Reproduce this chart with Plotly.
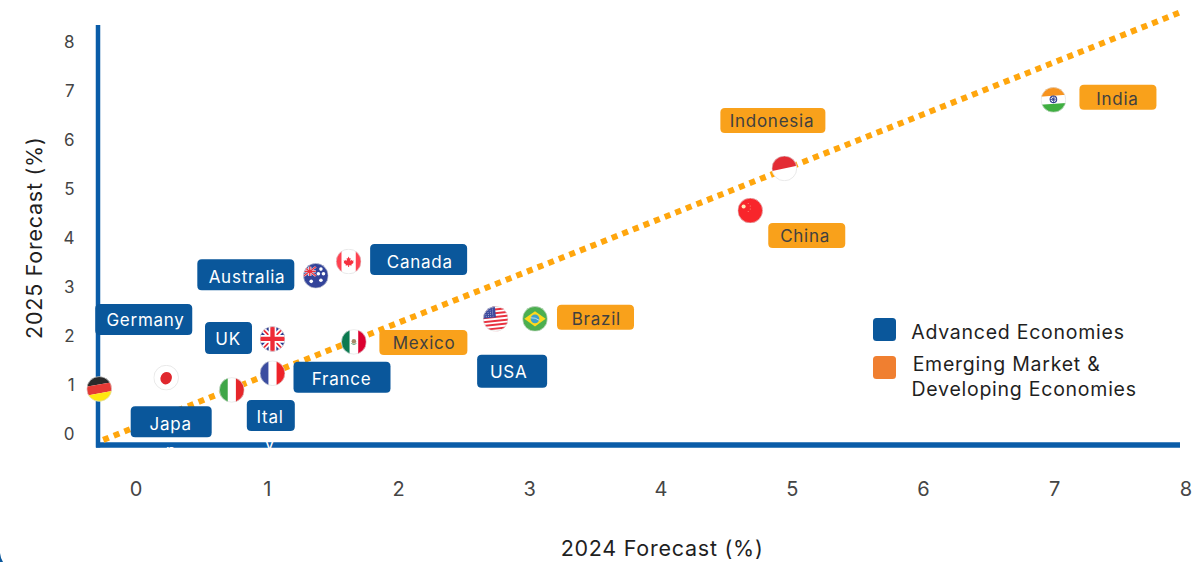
import base64
import plotly.graph_objects as go

# ---------- data ----------
countries = ["Germany", "Japan", "Italy", "France", "UK", "Mexico", "Australia",
             "Canada", "USA", "Brazil", "China", "Indonesia", "India"]
forecast_2024 = [-0.28, 0.23, 0.73, 1.04, 1.04, 1.66, 1.37, 1.62, 2.74, 3.04, 4.68, 4.94, 6.99]
forecast_2025 = [0.92, 1.15, 0.90, 1.24, 1.94, 1.88, 3.23, 3.52, 2.35, 2.35, 4.56, 5.42, 6.82]
groups = ["adv", "adv", "adv", "adv", "adv", "em", "adv", "adv", "adv", "em", "em", "em", "em"]
trend_x = [-0.25, 7.95]
trend_y = [-0.12, 8.60]
x_ticks = [0, 1, 2, 3, 4, 5, 6, 7, 8]
y_ticks = [0, 1, 2, 3, 4, 5, 6, 7, 8]

# ---------- style ----------
BLUE = "#0A579B"
AXIS = "#0A5CA8"
ORANGE = "#F9A11B"
LINE = "#FFA60D"
FONT = "Inter"
W, H = 1193, 562
L, R, T, B = 85, 0, 0, 97
X0, PX = 136.0, 131.25   # pixel of x=0, px per unit
Y0, PY = 434.0, 49.0
xr = [(L - X0) / PX, (W - R - X0) / PX]
yr = [(Y0 - (H - B)) / PY, (Y0 - T) / PY]


def px_x(px):
    return (px - L) / (W - L - R)


def px_y(py):
    return 1 - (py - T) / (H - T - B)


# label box in pixels relative to the flag centre: left, right, top, bottom; text centre dx, dy
boxes = {
    "Germany": (-4, 93, -85, -54, 46, -68.5),
    "Japan": (-35.5, 45.5, 28.5, 59.5, 4.5, 46),
    "Italy": (15, 63, 10, 41, 38, 27.5),
    "France": (21, 118, -11.5, 19.5, 69, 6),
    "UK": (-67.5, -20.5, -17, 15, -44.5, 0.5),
    "Mexico": (25.5, 113.5, -12, 13, 70.5, 1.5),
    "Australia": (-118.5, -21.5, -16.5, 14.5, -68.5, 1),
    "Canada": (21.5, 118.5, -17.5, 13.5, 71.5, 0.5),
    "USA": (-18.5, 51.5, 36, 69, 13.5, 53.5),
    "Brazil": (22, 99, -14, 11, 61, 0.5),
    "China": (18, 95, 12.5, 37.5, 55, 25.5),
    "Indonesia": (-64, 41, -60.5, -35.5, -12, -47.5),
    "India": (26, 103, -15, 10, 64, -0.5),
}


def circ(body, stroke="#dcdcdc"):
    svg = ('<svg xmlns="http://www.w3.org/2000/svg" viewBox="0 0 100 100" preserveAspectRatio="none">'
           '<defs><clipPath id="c"><circle cx="50" cy="50" r="49"/></clipPath></defs>'
           '<g clip-path="url(#c)"><rect width="100" height="100" fill="#fff"/>' + body + '</g>'
           f'<circle cx="50" cy="50" r="48.5" fill="none" stroke="{stroke}" stroke-width="2.5"/></svg>')
    return "data:image/svg+xml;base64," + base64.b64encode(svg.encode()).decode()


def stars(pts, fill="#fff", r=5):
    return "".join(f'<circle cx="{x}" cy="{y}" r="{r}" fill="{fill}"/>' for x, y in pts)


usa = '<g transform="rotate(-6 50 50)"><rect x="-10" y="-10" width="120" height="120" fill="#fff"/>' + "".join(
    f'<rect x="-10" y="{y}" width="120" height="7.7" fill="#E8313F"/>' for y in range(-6, 110, 15)
) + '<rect x="-10" y="-10" width="62" height="54" fill="#3C4A9E"/>' + stars(
    [(a, b) for a in range(5, 50, 9) for b in range(6, 42, 8)], r=1.6) + '</g>'

uk_cross = ('<rect width="100" height="100" fill="#2E3C8F"/>'
            '<path d="M0 0L100 100M100 0L0 100" stroke="#fff" stroke-width="20"/>'
            '<path d="M0 0L100 100M100 0L0 100" stroke="#EE2B37" stroke-width="7"/>'
            '<path d="M50 0V100M0 50H100" stroke="#fff" stroke-width="30"/>'
            '<path d="M50 0V100M0 50H100" stroke="#EE2B37" stroke-width="17"/>')

flags = {
    "Germany": '<g transform="rotate(-10 50 50)"><rect x="-20" y="-20" width="140" height="53" fill="#2A2A2A"/>'
               '<rect x="-20" y="33" width="140" height="34" fill="#E53A35"/>'
               '<rect x="-20" y="67" width="140" height="53" fill="#FFE80F"/></g>',
    "Japan": '<ellipse cx="50" cy="52" rx="22" ry="25" transform="rotate(28 50 52)" fill="#E0282E"/>',
    "Italy": '<rect width="34" height="100" fill="#3FA648"/><rect x="66" width="34" height="100" fill="#E6262A"/>',
    "France": '<rect width="34" height="100" fill="#3B4DA0"/><rect x="66" width="34" height="100" fill="#EE2229"/>',
    "UK": uk_cross,
    "Mexico": '<rect width="33" height="100" fill="#0B7A50"/><rect x="67" width="33" height="100" fill="#DC0030"/>'
              '<circle cx="50" cy="48" r="9" fill="#A58B6A"/><path d="M40 56Q50 66 60 56" stroke="#3E8E5B" stroke-width="3" fill="none"/>',
    "Australia": '<rect width="100" height="100" fill="#33449A"/>'
                 '<g transform="translate(3 15) scale(.47 .36)"><path d="M0 0L100 100M100 0L0 100" stroke="#F3D6DC" stroke-width="20"/>'
                 '<path d="M50 0V100M0 50H100" stroke="#fff" stroke-width="26"/>'
                 '<path d="M50 0V100M0 50H100M0 0L100 100M100 0L0 100" stroke="#E8313F" stroke-width="12"/></g>'
                 + stars([(70, 24), (60, 42), (80, 42), (70, 68), (32, 72)], r=7),
    "Canada": '<rect width="22" height="100" fill="#FF4150"/><rect x="78" width="22" height="100" fill="#FF4150"/>'
              '<g transform="translate(50 50) scale(.6) translate(-50 -50)"><path d="M50 18L56 30L63 27L60 47L69 38L72 45L83 43L79 55L83 58L68 70L70 76L53 74V86H47V74L30 76L32 70L17 58L21 55L17 43L28 45L31 38L40 47L37 27L44 30Z" fill="#F5303F"/></g>',
    "USA": usa,
    "Brazil": '<rect width="100" height="100" fill="#4CAF50"/><path d="M50 20L92 50L50 80L8 50Z" fill="#FFD91C"/>'
              '<circle cx="50" cy="50" r="17" fill="#3FA0C8"/><path d="M33 46Q52 44 67 56" stroke="#e6f3f5" stroke-width="3" fill="none"/>',
    "China": '<rect width="100" height="100" fill="#F8252B"/>'
             + stars([(24, 34)], "#FFE9B8", 8) + stars([(42, 22), (50, 32), (50, 44), (42, 54)], "#FF9C8C", 2),
    "Indonesia": '<g transform="rotate(-12 50 50)"><rect x="-20" y="-20" width="140" height="70" fill="#E32B34"/></g>',
    "India": '<g transform="rotate(-4 50 50)"><rect x="-20" y="-20" width="140" height="54" fill="#F7931E"/>'
             '<rect x="-20" y="66" width="140" height="54" fill="#3FAF41"/>'
             '<circle cx="50" cy="48" r="13" fill="none" stroke="#2B3A8C" stroke-width="4"/>'
             '<path d="M50 35V61M37 48H63M41 39L59 57M59 39L41 57" stroke="#2B3A8C" stroke-width="3"/></g>',
}


def round_box(l, r, t, b, rad=4.5):
    # y is positive upward in pixel-sized shapes; t, b are given downward from the anchor
    t, b = -t, -b
    return (f"M{l + rad},{t} L{r - rad},{t} Q{r},{t} {r},{t - rad} L{r},{b + rad} Q{r},{b} {r - rad},{b} "
            f"L{l + rad},{b} Q{l},{b} {l},{b + rad} L{l},{t - rad} Q{l},{t} {l + rad},{t} Z")


shapes = []
annotations = []
images = []

# axis lines
shapes.append(dict(type="line", xref="x", yref="y", layer="below",
                   x0=(98 - X0) / PX, x1=(98 - X0) / PX, y0=(Y0 - 447.5) / PY, y1=(Y0 - 25) / PY,
                   line=dict(color=AXIS, width=4.5)))
shapes.append(dict(type="line", xref="x", yref="y", layer="below",
                   x0=(96 - X0) / PX, x1=(1180 - X0) / PX, y0=(Y0 - 445) / PY, y1=(Y0 - 445) / PY,
                   line=dict(color=AXIS, width=5.5)))

for name, xv, yv, g in zip(countries, forecast_2024, forecast_2025, groups):
    images.append(dict(source=circ(flags[name]), xref="x", yref="y", x=xv, y=yv,
                       sizex=25.5 / PX, sizey=25.5 / PY, xanchor="center", yanchor="middle",
                       sizing="stretch", layer="above"))
    l, r, t, b, dx, dy = boxes[name]
    shapes.append(dict(type="path", layer="above", xref="x", yref="y",
                       xsizemode="pixel", ysizemode="pixel", xanchor=xv, yanchor=yv,
                       path=round_box(l, r, t, b),
                       fillcolor=BLUE if g == "adv" else ORANGE, line=dict(width=0)))
    shown = {"Japan": "Japa", "Italy": "Ital"}.get(name, name)
    annotations.append(dict(text=shown, xref="x", yref="y", x=xv, y=yv, xshift=dx, yshift=-dy,
                            showarrow=False, xanchor="center", yanchor="middle",
                            font=dict(family=FONT, size=17,
                                      color="#FFFFFF" if g == "adv" else "#404040")))
    if name in ("Japan", "Italy"):
        # wrapped last letter, white, visible only where it crosses the axis line
        annotations.append(dict(text={"Japan": "n", "Italy": "y"}[name], xref="x", yref="y",
                                x=xv, y=yv, xshift=dx, yshift=-(dy + 27),
                                showarrow=False, xanchor="center", yanchor="middle",
                                font=dict(family=FONT, size=17, color="#FFFFFF")))

# legend
for y0, col in ((318, "#0A579B"), (356, "#F07F30")):
    shapes.append(dict(type="path", xref="paper", yref="paper", layer="above",
                       xsizemode="pixel", ysizemode="pixel", xanchor=px_x(873), yanchor=px_y(y0),
                       path=round_box(0, 23, 0, 23, 3.5), fillcolor=col, line=dict(width=0)))
for txt, px, py in (("Advanced Economies", 912, 332), ("Emerging Market &", 913, 364),
                    ("Developing Economies", 913, 389)):
    annotations.append(dict(text=txt, xref="paper", yref="paper", x=px_x(px), y=px_y(py),
                            showarrow=False, xanchor="left", yanchor="middle", xshift=4,
                            font=dict(family=FONT, size=19.5, color="#1F1F1F")))

# axis titles
annotations.append(dict(text="2024 Forecast (%)", xref="paper", yref="paper", x=px_x(662), y=px_y(548),
                        showarrow=False, xanchor="center", yanchor="middle",
                        font=dict(family=FONT, size=21.5, color="#1F1F1F")))
annotations.append(dict(text="2025 Forecast (%)", xref="paper", yref="paper", x=px_x(33), y=px_y(237.5),
                        showarrow=False, xanchor="center", yanchor="middle", textangle=-90,
                        font=dict(family=FONT, size=21.5, color="#1F1F1F")))

# sliver of the rounded container in the bottom-left corner
shapes.append(dict(type="path", xref="paper", yref="paper", layer="above",
                   xsizemode="pixel", ysizemode="pixel", xanchor=px_x(0), yanchor=px_y(553),
                   path="M0,0 Q0.5,-5 3,-9 L0,-9 Z", fillcolor="#0A579B", line=dict(width=0)))

fig = go.Figure()
fig.add_trace(go.Scatter(x=trend_x, y=trend_y, mode="lines", showlegend=False, hoverinfo="skip",
                         line=dict(color=LINE, width=6, dash="6px,5.4px")))
fig.add_trace(go.Scatter(x=forecast_2024, y=forecast_2025, mode="markers", showlegend=False,
                         text=countries, hoverinfo="text",
                         marker=dict(size=20, color="rgba(0,0,0,0)")))
fig.update_layout(
    width=W, height=H, margin=dict(l=L, r=R, t=T, b=B),
    paper_bgcolor="#FFFFFF", plot_bgcolor="#FFFFFF", showlegend=False,
    xaxis=dict(range=xr, tickmode="array", tickvals=x_ticks, showgrid=False, zeroline=False,
               showline=False, ticks="outside", ticklen=6, tickcolor="rgba(0,0,0,0)",
               tickfont=dict(family=FONT, size=20, color="#454545")),
    yaxis=dict(range=yr, tickmode="array", tickvals=y_ticks, showgrid=False, zeroline=False,
               showline=False, ticks="outside", ticklen=6, tickcolor="rgba(0,0,0,0)",
               tickfont=dict(family=FONT, size=17, color="#454545")),
    shapes=shapes, annotations=annotations, images=images,
)
fig.write_html(
    "out.html", config={"displayModeBar": False},
    post_script=(
        "document.body.style.margin='0';"
        "var s=document.createElement('style');"
        "s.textContent='.annotation-text{letter-spacing:.75px}';"
        "document.head.appendChild(s);"
    ),
)
